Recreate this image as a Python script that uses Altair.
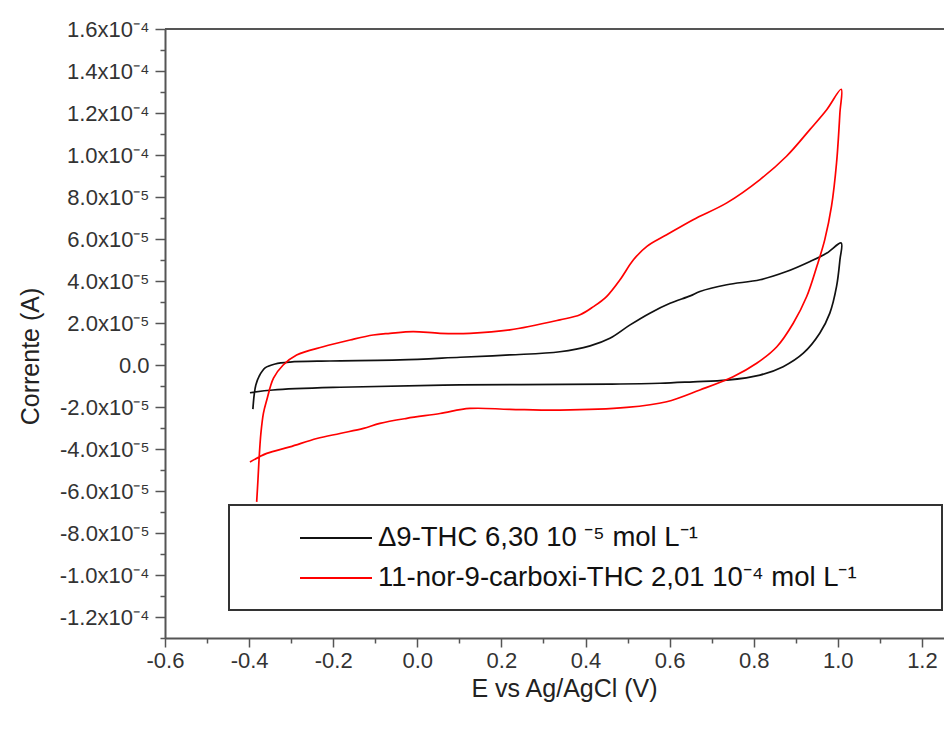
import altair as alt
import pandas as pd

# ---------------- data ----------------
series_names = [
    "Δ9-THC 6,30 10 ⁻⁵ mol L⁻¹",
    "11-nor-9-carboxi-THC 2,01 10⁻⁴ mol L⁻¹",
]
series_colors = ["#111111", "#ff0000"]

# Δ9-THC voltammogram (E in V, I in units of 1e-5 A), in scan order
black_E = [-0.391, -0.388, -0.384, -0.376, -0.362, -0.338, -0.303, -0.208, -0.041, 0.102,
           0.220, 0.339, 0.411, 0.458, 0.506, 0.553, 0.601, 0.649, 0.672, 0.736,
           0.815, 0.878, 0.934, 0.974, 1.008,
           1.005, 0.997, 0.981, 0.957, 0.918, 0.870, 0.815, 0.736, 0.656, 0.577,
           0.458, 0.102, -0.184, -0.343, -0.398]
black_I = [-2.10, -1.43, -0.95, -0.53, -0.14, 0.05, 0.14, 0.19, 0.24, 0.37,
           0.48, 0.63, 0.91, 1.27, 1.91, 2.47, 2.94, 3.29, 3.50, 3.82,
           4.06, 4.45, 4.93, 5.33, 5.81,
           5.01, 3.74, 2.47, 1.51, 0.56, -0.08, -0.48, -0.72, -0.80, -0.87,
           -0.91, -0.95, -1.06, -1.19, -1.32]

# 11-nor-9-carboxi-THC voltammogram (E in V, I in units of 1e-5 A), in scan order
red_E = [-0.382, -0.379, -0.376, -0.372, -0.366, -0.358, -0.342, -0.319, -0.287, -0.224,
         -0.160, -0.105, -0.065, -0.010, 0.054, 0.125, 0.220, 0.339, 0.387, 0.419,
         0.450, 0.482, 0.514, 0.546, 0.593, 0.656, 0.736, 0.815, 0.878, 0.934,
         0.974, 1.008,
         1.005, 0.997, 0.985, 0.969, 0.950, 0.926, 0.894, 0.855, 0.807, 0.751,
         0.672, 0.593, 0.498, 0.339, 0.220, 0.125, 0.054, -0.025, -0.089, -0.128,
         -0.184, -0.239, -0.303, -0.358, -0.398]
red_I = [-6.52, -5.49, -4.38, -3.26, -2.30, -1.67, -0.63, 0.00, 0.48, 0.87,
         1.19, 1.43, 1.51, 1.59, 1.51, 1.51, 1.67, 2.15, 2.39, 2.78,
         3.26, 4.06, 5.01, 5.65, 6.20, 6.92, 7.72, 8.83, 9.94, 11.22,
         12.17, 13.13,
         12.01, 9.63, 7.56, 5.97, 4.69, 3.26, 1.99, 0.87, 0.08, -0.56,
         -1.19, -1.75, -2.02, -2.15, -2.11, -2.07, -2.31, -2.54, -2.78, -3.02,
         -3.26, -3.50, -3.90, -4.21, -4.62]

# axis ticks and labels
x_major_values = [-0.6, -0.4, -0.2, 0.0, 0.2, 0.4, 0.6, 0.8, 1.0, 1.2]
x_major_labels = ["-0.6", "-0.4", "-0.2", "0.0", "0.2", "0.4", "0.6", "0.8", "1.0", "1.2"]
x_minor_values = [-0.5, -0.3, -0.1, 0.1, 0.3, 0.5, 0.7, 0.9, 1.1]

y_major_keys = [-12, -10, -8, -6, -4, -2, 0, 2, 4, 6, 8, 10, 12, 14, 16]  # in 1e-5 A
y_major_labels = ["-1.2x10⁻⁴", "-1.0x10⁻⁴", "-8.0x10⁻⁵", "-6.0x10⁻⁵", "-4.0x10⁻⁵",
                  "-2.0x10⁻⁵", "0.0", "2.0x10⁻⁵", "4.0x10⁻⁵", "6.0x10⁻⁵", "8.0x10⁻⁵",
                  "1.0x10⁻⁴", "1.2x10⁻⁴", "1.4x10⁻⁴", "1.6x10⁻⁴"]
y_minor_keys = [-13, -11, -9, -7, -5, -3, -1, 1, 3, 5, 7, 9, 11, 13, 15]

x_title = "E vs Ag/AgCl (V)"
y_title = "Corrente (A)"

# ---------------- build table ----------------
rows = []
for i, (e, c) in enumerate(zip(black_E, black_I)):
    rows.append({"E": e, "I": c * 1e-5, "series": series_names[0], "idx": i})
for i, (e, c) in enumerate(zip(red_E, red_I)):
    rows.append({"E": e, "I": c * 1e-5, "series": series_names[1], "idx": i})
df = pd.DataFrame(rows)

W, H = 779, 609
FONT = "Liberation Sans"
AX = "#555555"

x_tick_vals = sorted(x_major_values + x_minor_values)
y_tick_vals = sorted([k * 1e-5 for k in y_major_keys + y_minor_keys])

x_label_expr = ("[" + ",".join("'%s'" % s for s in x_major_labels) + "][indexof(["
                + ",".join(str(round(v * 10)) for v in x_major_values)
                + "], round(datum.value*10))] || ''")
y_label_expr = ("[" + ",".join("'%s'" % s for s in y_major_labels) + "][indexof(["
                + ",".join(str(k) for k in y_major_keys)
                + "], round(datum.value*100000))] || ''")

x_axis = alt.Axis(
    values=x_tick_vals, labelExpr=x_label_expr, title=x_title,
    tickSize={"condition": {"test": "abs(round(datum.value*10)) % 2 == 0", "value": 9}, "value": 5},
    labelPadding=3, labelFlush=False, labelOverlap=False, grid=False,
    titleFontSize=25, titleFont=FONT, titleFontWeight="normal", titleColor="#222222",
    titleY=50, titleX=399, titleBaseline="middle",
)
y_axis = alt.Axis(
    values=y_tick_vals, labelExpr=y_label_expr, title=y_title,
    tickSize={"condition": {"test": "abs(round(datum.value*100000)) % 2 == 0", "value": 10}, "value": 5},
    labelPadding=6, labelFlush=False, labelOverlap=False, grid=False,
    titleFontSize=25, titleFont=FONT, titleFontWeight="normal", titleColor="#222222",
    titleX=-135, titleY=327, titleBaseline="middle",
)

lines = alt.Chart(df).mark_line(interpolate="catmull-rom", strokeWidth=1.7).encode(
    x=alt.X("E:Q", scale=alt.Scale(domain=[-0.6, 1.2525], nice=False, zero=False), axis=x_axis),
    y=alt.Y("I:Q", scale=alt.Scale(domain=[-1.3e-4, 1.6e-4], nice=False, zero=False), axis=y_axis),
    color=alt.Color("series:N", scale=alt.Scale(domain=series_names, range=series_colors), legend=None),
    order="idx:Q",
)

dummy = alt.Data(values=[{"a": 1}])

top_line = alt.Chart(dummy).mark_rule(color=AX, strokeWidth=2).encode(
    x=alt.value(0), x2=alt.value(W), y=alt.value(0)
)

# legend box (opaque, on top of the curves)
leg_box = alt.Chart(dummy).mark_rect(fill="white", stroke="#333333", strokeWidth=2).encode(
    x=alt.value(64), x2=alt.value(777), y=alt.value(476), y2=alt.value(581)
)
legend_layers = [leg_box]
for i, (name, col) in enumerate(zip(series_names, series_colors)):
    yy = 509 + 40 * i
    legend_layers.append(
        alt.Chart(dummy).mark_rule(color=col, strokeWidth=2).encode(
            x=alt.value(135), x2=alt.value(207), y=alt.value(yy)
        )
    )
    legend_layers.append(
        alt.Chart(dummy).mark_text(align="left", baseline="middle", font=FONT,
                                   fontSize=27.5, color="#111111", text=name).encode(
            x=alt.value(213), y=alt.value(yy)
        )
    )

chart = alt.layer(lines, top_line, *legend_layers).properties(
    width=W, height=H,
    padding={"left": 157, "top": 21, "right": 0, "bottom": 80},
    autosize=alt.AutoSizeParams(type="none"),
    background="white",
).configure_view(stroke=None).configure_axis(
    domainColor=AX, domainWidth=2, tickColor=AX, tickWidth=1.5,
    labelFont=FONT, labelFontSize=22, labelColor="#333333",
)

chart.save("out.html", embed_options={"renderer": "svg", "actions": False})
